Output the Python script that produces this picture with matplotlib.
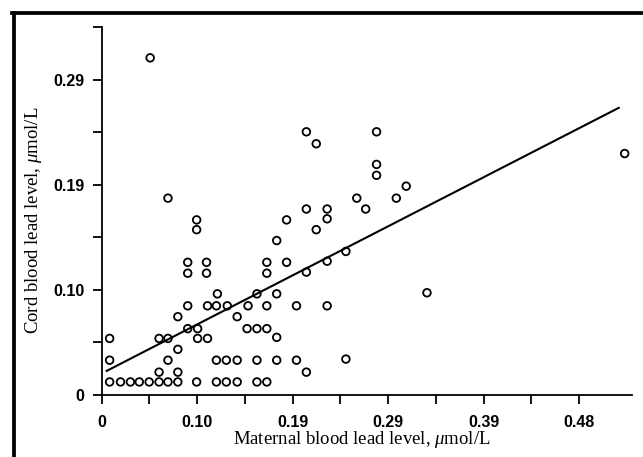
import matplotlib
matplotlib.use("Agg")
import matplotlib.pyplot as plt
from matplotlib.lines import Line2D

plt.rcParams['mathtext.fontset'] = 'custom'
plt.rcParams['mathtext.rm'] = 'Liberation Serif'
plt.rcParams['mathtext.it'] = 'Liberation Serif:italic'

# maternal vs cord blood lead, umol/L
maternal = [0.008, 0.019, 0.029, 0.038, 0.048, 0.058, 0.067, 0.077, 0.096, 0.116,
            0.126, 0.137, 0.157, 0.167, 0.058, 0.077, 0.207, 0.008, 0.067, 0.116,
            0.126, 0.137, 0.157, 0.177, 0.197, 0.247, 0.077, 0.008, 0.058, 0.067,
            0.097, 0.107, 0.177, 0.087, 0.097, 0.147, 0.157, 0.167, 0.077, 0.137,
            0.087, 0.107, 0.116, 0.127, 0.148, 0.167, 0.197, 0.228, 0.117, 0.157,
            0.177, 0.329, 0.087, 0.106, 0.167, 0.207, 0.087, 0.106, 0.167, 0.187,
            0.228, 0.247, 0.177, 0.096, 0.217, 0.096, 0.187, 0.228, 0.207, 0.228,
            0.267, 0.067, 0.258, 0.298, 0.308, 0.278, 0.278, 0.529, 0.217, 0.207,
            0.278, 0.049]
cord = [0.012, 0.012, 0.012, 0.012, 0.012, 0.012, 0.012, 0.012, 0.012, 0.012,
        0.012, 0.012, 0.012, 0.012, 0.021, 0.021, 0.021, 0.032, 0.032, 0.032,
        0.032, 0.032, 0.032, 0.032, 0.032, 0.033, 0.042, 0.052, 0.052, 0.052,
        0.052, 0.052, 0.053, 0.061, 0.061, 0.061, 0.061, 0.061, 0.072, 0.072,
        0.082, 0.082, 0.082, 0.082, 0.082, 0.082, 0.082, 0.082, 0.093, 0.093,
        0.093, 0.094, 0.112, 0.112, 0.112, 0.113, 0.122, 0.122, 0.122, 0.122,
        0.123, 0.132, 0.142, 0.152, 0.152, 0.161, 0.161, 0.162, 0.171, 0.171,
        0.171, 0.181, 0.181, 0.181, 0.192, 0.202, 0.212, 0.222, 0.231, 0.242,
        0.242, 0.310]

# regression line
fit_slope = 0.467
fit_intercept = 0.0198
fit_x = [0.005, 0.523]

x_ticks = [0, 0.0966, 0.1932, 0.2898, 0.3864, 0.483]
x_labels = ['0', '0.10', '0.19', '0.29', '0.39', '0.48']
x_minor = [0.0483, 0.1449, 0.2415, 0.3381, 0.4347]
y_ticks = [0, 0.0966, 0.1932, 0.2898]
y_labels = ['0', '0.10', '0.19', '0.29']
y_minor = [0.0483, 0.1449, 0.2415, 0.3381]

fig = plt.figure(figsize=(6.43, 4.57), dpi=100)
ax = fig.add_axes([0.1582, 0.1357, 0.8247, 0.8046])

ax.scatter(maternal, cord, s=30, facecolors='none', edgecolors='black',
           linewidths=1.3, clip_on=False, zorder=3)
ax.plot(fit_x, [fit_intercept + fit_slope * v for v in fit_x], color='black', lw=1.5)

ax.set_xlim(0, 0.5364)
ax.set_ylim(0, 0.3381)
ax.spines['top'].set_visible(False)
ax.spines['right'].set_visible(False)
for s in ['left', 'bottom']:
    ax.spines[s].set_linewidth(1.3)

ax.set_xticks(x_ticks)
ax.set_xticklabels(x_labels)
ax.set_xticks(x_minor, minor=True)
ax.set_yticks(y_ticks)
ax.set_yticklabels(y_labels)
ax.set_yticks(y_minor, minor=True)
ax.tick_params(which='both', direction='out', length=6.5, width=1.3)
ax.tick_params(axis='x', pad=8)
ax.tick_params(axis='y', pad=6)
for lab in ax.get_xticklabels() + ax.get_yticklabels():
    lab.set_fontfamily('Liberation Sans')
    lab.set_fontweight('bold')
    lab.set_fontsize(11.5)

ax.set_xlabel('Maternal blood lead level, $\\mu$mol/L', fontfamily='Liberation Serif',
              fontsize=13.5)
ax.set_ylabel('Cord blood lead level, $\\mu$mol/L', fontfamily='Liberation Serif',
              fontsize=13.5)
ax.xaxis.set_label_coords(0.49, -0.092)
ax.yaxis.set_label_coords(-0.108, 0.476)

# scanned page frame
fig.add_artist(Line2D([0.021, 0.021], [0, 0.9726], transform=fig.transFigure,
                      color='black', lw=2.7))
fig.add_artist(Line2D([0.019, 1], [0.9726, 0.9726], transform=fig.transFigure,
                      color='black', lw=2.7))

fig.savefig('out.png', dpi=100)
